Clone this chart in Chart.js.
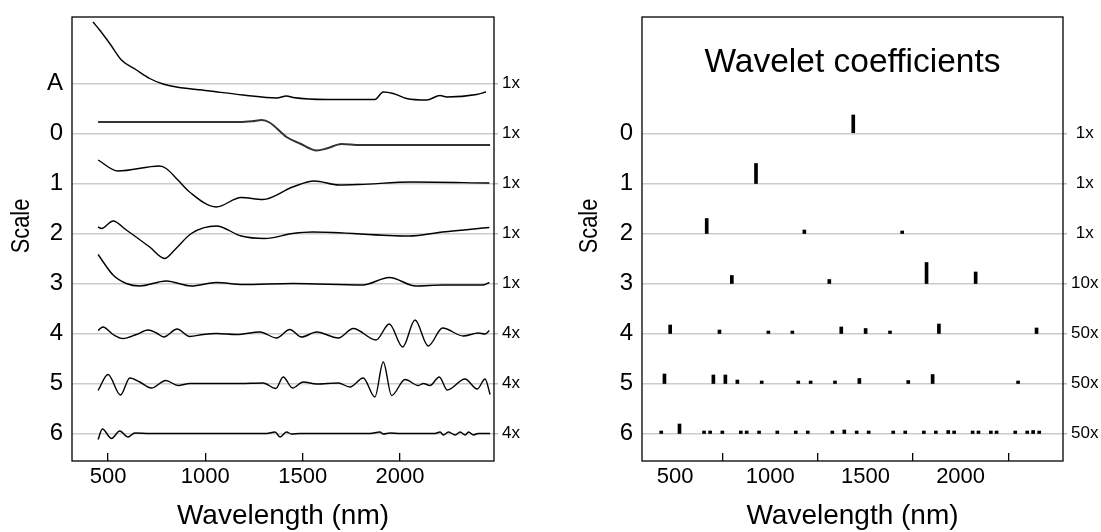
<!DOCTYPE html>
<html>
<head>
<meta charset="utf-8">
<script src="https://cdn.jsdelivr.net/npm/chart.js@4.4.1/dist/chart.umd.min.js"></script>
<style>
  body { margin: 0; background: #fff; }
  #wrap { position: relative; width: 1101px; height: 532px; background: #fff; }
  canvas { position: absolute; top: 0; }
</style>
</head>
<body>
<div id="wrap">
  <canvas id="spectra" width="550" height="532" style="left:0"></canvas>
  <canvas id="coefs" width="551" height="532" style="left:550px"></canvas>
</div>
<script>
// rows of both panels, top to bottom
const scaleLabels = ['A', '0', '1', '2', '3', '4', '5', '6'];
const scaleLevels = [1, 0, -1, -2, -3, -4, -5, -6];
const spectraFactors = ['1x', '1x', '1x', '1x', '1x', '4x', '4x', '4x'];

const coefLabels = ['0', '1', '2', '3', '4', '5', '6'];
const coefLevels = [0, -1, -2, -3, -4, -5, -6];
const coefFactors = ['1x', '1x', '1x', '10x', '50x', '50x', '50x'];

const wavelengthTicks = [500, 1000, 1500, 2000];

// left panel: [wavelength nm, offset from the row line]
const curveA = [[423, 1.23], [457, 1.07], [509, 0.80], [569, 0.47], [646, 0.27], [714, 0.10], [783, -0.01],
  [852, -0.07], [1023, -0.15], [1194, -0.23], [1366, -0.29], [1417, -0.25], [1451, -0.28], [1623, -0.32],
  [1871, -0.32], [1914, -0.17], [1965, -0.20], [2034, -0.30], [2137, -0.33], [2206, -0.24], [2240, -0.27],
  [2394, -0.22], [2442, -0.17]];
const curve0 = [[449, 0.23], [1177, 0.23], [1240, 0.245], [1290, 0.27], [1330, 0.22], [1417, -0.07], [1486, -0.20],
  [1572, -0.34], [1623, -0.30], [1700, -0.21], [1794, -0.23], [2463, -0.23]];
const curve1 = [[449, 0.47], [551, 0.25], [765, 0.35], [799, 0.30], [859, 0.07], [919, -0.17], [1056, -0.47],
  [1184, -0.28], [1295, -0.32], [1449, -0.07], [1560, 0.05], [1688, -0.03], [1791, -0.02], [2064, 0.03], [2459, 0.01]];
const curve2 = [[449, 0.13], [466, 0.10], [526, 0.25], [594, 0.07], [714, -0.27], [791, -0.50], [842, -0.33],
  [928, 0.0], [1056, 0.15], [1184, -0.05], [1304, -0.10], [1449, 0.0], [1551, 0.03], [2047, -0.05], [2218, 0.03], [2459, 0.12]];
const curve3 = [[449, 0.58], [526, 0.17], [594, 0.0], [662, -0.05], [799, 0.05], [928, -0.05], [1056, 0.02],
  [1192, -0.02], [1449, 0.0], [1808, -0.03], [1945, 0.12], [2082, -0.05], [2218, -0.03], [2423, -0.03], [2459, 0.02]];
const curve4 = [[449, 0.06], [474, 0.13], [526, -0.02], [577, -0.10], [646, -0.02], [706, 0.07], [749, 0.01],
  [786, -0.07], [855, 0.09], [920, -0.06], [989, -0.02], [1057, 0], [1160, -0.02], [1280, 0.03], [1366, -0.09],
  [1434, 0.08], [1494, -0.07], [1572, 0.03], [1683, -0.09], [1760, 0.10], [1877, -0.13], [1945, 0.19], [2014, -0.27],
  [2077, 0.27], [2145, -0.25], [2219, 0.11], [2325, -0.05], [2403, 0.01], [2437, -0.01], [2459, 0.06]];
const curve5 = [[449, -0.14], [500, 0.18], [564, -0.23], [612, 0.11], [663, 0.03], [723, -0.09], [797, 0.06],
  [860, -0.04], [920, 0], [1177, 0], [1297, 0.01], [1362, -0.10], [1400, 0.13], [1448, -0.09], [1503, 0.03],
  [1572, -0.01], [1683, 0.01], [1743, -0.07], [1811, 0.11], [1871, -0.27], [1914, 0.43], [1957, -0.24], [2026, 0.08],
  [2094, -0.04], [2120, 0], [2154, -0.04], [2202, 0.13], [2243, -0.13], [2334, 0.09], [2397, -0.11], [2437, 0.09], [2463, -0.22]];
const curve6 = [[449, -0.12], [471, 0.09], [518, -0.10], [560, 0.05], [603, -0.07], [637, 0.01], [714, 0],
  [1315, 0], [1358, 0.03], [1384, -0.07], [1417, 0.03], [1443, -0.01], [1486, 0], [1846, 0], [1897, 0.03],
  [1914, -0.01], [1949, 0.01], [2000, 0], [2180, 0], [2206, 0.03], [2223, -0.03], [2249, 0.03], [2284, -0.03],
  [2309, 0.03], [2335, -0.03], [2352, 0.03], [2378, -0.03], [2401, 0], [2463, 0]];

// right panel: [wavelength nm, bar height]
const coef0 = [[1436, 0.37]];
const coef1 = [[925, 0.40]];
const coef2 = [[666, 0.30], [1179, 0.07], [1693, 0.05]];
const coef3 = [[798, 0.16], [1310, 0.08], [1821, 0.42], [2079, 0.23]];
const coef4 = [[474, 0.17], [733, 0.07], [990, 0.05], [1116, 0.05], [1373, 0.13], [1501, 0.10], [1629, 0.05],
  [1886, 0.19], [2399, 0.11]];
const coef5 = [[444, 0.19], [701, 0.17], [764, 0.17], [827, 0.07], [955, 0.05], [1147, 0.05], [1212, 0.05],
  [1340, 0.05], [1468, 0.10], [1725, 0.06], [1853, 0.18], [2302, 0.05]];
const coef6 = [[427, 0.05], [523, 0.19], [652, 0.05], [684, 0.05], [748, 0.05], [845, 0.05], [876, 0.05],
  [941, 0.05], [1037, 0.05], [1134, 0.05], [1197, 0.05], [1326, 0.05], [1389, 0.07], [1454, 0.05], [1517, 0.05],
  [1646, 0.05], [1709, 0.05], [1807, 0.05], [1870, 0.05], [1935, 0.06], [1966, 0.05], [2063, 0.05], [2094, 0.05],
  [2159, 0.05], [2189, 0.05], [2287, 0.05], [2350, 0.05], [2381, 0.06], [2413, 0.05]];

const fontFamily = '"Liberation Sans", Arial, Helvetica, sans-serif';
Chart.defaults.font.family = fontFamily;
Chart.defaults.color = '#000';

// frame round the plot area, title inside it and the narrow "Scale" label
const framePlugin = {
  id: 'frame',
  afterDraw(chart, args, opts) {
    const { ctx, chartArea: a } = chart;
    ctx.save();
    ctx.strokeStyle = '#000';
    ctx.lineWidth = 1.3;
    ctx.strokeRect(a.left, a.top, a.right - a.left, a.bottom - a.top);
    ctx.fillStyle = '#000';
    ctx.textAlign = 'center';
    ctx.textBaseline = 'middle';
    if (opts.title) {
      ctx.font = '33.5px ' + fontFamily;
      ctx.fillText(opts.title, (a.left + a.right) / 2, a.top + 46);
    }
    if (opts.yTitle) {
      ctx.translate(opts.yTitleX, opts.yTitleY);
      ctx.rotate(-Math.PI / 2);
      ctx.scale(0.84, 1);
      ctx.font = '26px ' + fontFamily;
      ctx.fillText(opts.yTitle, 0, 0);
    }
    ctx.restore();
  }
};

function noPad(s) {
  s.paddingTop = 0; s.paddingBottom = 0; s.paddingLeft = 0; s.paddingRight = 0;
}

function buildScales(o) {
  return {
    x: {
      type: 'linear', min: o.xMin, max: o.xMax, offset: false,
      afterBuildTicks: s => { s.ticks = wavelengthTicks.map(v => ({ value: v })); },
      afterFit: s => { s.height = 71; noPad(s); },
      grid: { drawOnChartArea: false, drawTicks: true, tickLength: -8, color: '#000', lineWidth: 1.3 },
      border: { display: false },
      ticks: { font: { size: 22 }, padding: 11, maxRotation: 0, callback: v => String(v) },
      title: { display: true, text: 'Wavelength (nm)', font: { size: 28 }, padding: { top: 0, bottom: -1 } }
    },
    y: {
      min: -6.55, max: 2.33, position: 'left',
      afterBuildTicks: s => { s.ticks = o.levels.map(v => ({ value: v })); },
      afterFit: s => { s.width = o.leftWidth; noPad(s); },
      grid: { color: '#cccccc', lineWidth: 1.5, drawTicks: false },
      border: { display: false },
      ticks: { font: { size: 24 }, padding: 9, callback: v => o.labels[o.levels.indexOf(v)] }
    },
    y2: {
      min: -6.55, max: 2.33, position: 'right',
      afterBuildTicks: s => { s.ticks = o.levels.map(v => ({ value: v })); },
      afterFit: s => { s.width = o.rightWidth; noPad(s); },
      grid: { drawOnChartArea: false, color: '#bbb', tickLength: 4, lineWidth: 1.5 },
      border: { display: false },
      ticks: { font: { size: 17 }, padding: 4, crossAlign: 'center', callback: v => o.factors[o.levels.indexOf(v)] }
    }
  };
}

const baseOptions = {
  responsive: false,
  animation: false,
  layout: { padding: { top: 17, left: 0, right: 0, bottom: 0 } },
  plugins: { legend: { display: false }, tooltip: { enabled: false } }
};

// Left: spectrum and its wavelet scales
const curves = [curveA, curve0, curve1, curve2, curve3, curve4, curve5, curve6];
new Chart(document.getElementById('spectra'), {
  type: 'line',
  data: {
    datasets: curves.map((c, i) => ({
      data: c.map(p => ({ x: p[0], y: scaleLevels[i] + p[1] })),
      borderColor: i === 1 ? '#333' : '#000',
      borderWidth: i === 1 ? 2 : 1.4,
      pointRadius: 0,
      cubicInterpolationMode: 'monotone',
      fill: false
    }))
  },
  options: {
    ...baseOptions,
    plugins: { ...baseOptions.plugins, frame: { yTitle: 'Scale', yTitleX: 22, yTitleY: 226 } },
    scales: buildScales({ xMin: 315, xMax: 2483, levels: scaleLevels, labels: scaleLabels,
      factors: spectraFactors, leftWidth: 72, rightWidth: 56 })
  },
  plugins: [framePlugin]
});

// Right: wavelet coefficients as short bars
const coefRows = [coef0, coef1, coef2, coef3, coef4, coef5, coef6];
const bars = [];
coefRows.forEach((row, i) => {
  row.forEach(p => bars.push({ x: p[0], y: [coefLevels[i], coefLevels[i] + p[1]] }));
});
new Chart(document.getElementById('coefs'), {
  type: 'bar',
  data: {
    datasets: [{ data: bars, backgroundColor: '#000', barThickness: 3, grouped: false }]
  },
  options: {
    ...baseOptions,
    plugins: { ...baseOptions.plugins,
      frame: { title: 'Wavelet coefficients', yTitle: 'Scale', yTitleX: 40, yTitleY: 226 } },
    scales: buildScales({ xMin: 326, xMax: 2538, levels: coefLevels, labels: coefLabels,
      factors: coefFactors, leftWidth: 92, rightWidth: 38 })
  },
  plugins: [framePlugin]
});
</script>
</body>
</html>
